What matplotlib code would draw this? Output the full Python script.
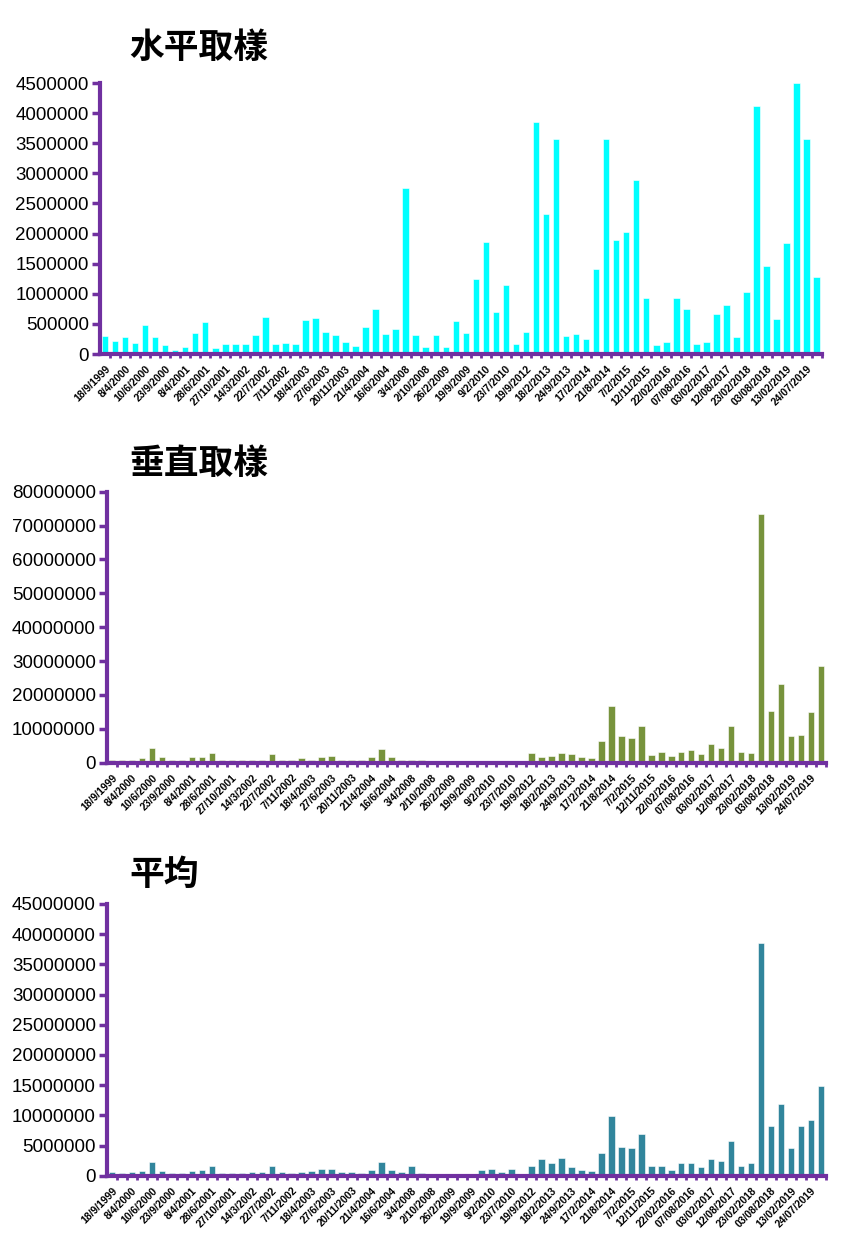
import matplotlib.pyplot as plt
import numpy as np

plt.rcParams['font.family'] = ['Liberation Sans', 'Noto Sans CJK TC', 'DejaVu Sans']

# ngay lay mau (chi ghi nhan moi 2 cot)
ngay = ['18/9/1999', '8/4/2000', '10/6/2000', '23/9/2000', '8/4/2001', '28/6/2001',
        '27/10/2001', '14/3/2002', '22/7/2002', '7/11/2002', '18/4/2003', '27/6/2003',
        '20/11/2003', '21/4/2004', '16/6/2004', '3/4/2008', '2/10/2008', '26/2/2009',
        '19/9/2009', '9/2/2010', '23/7/2010', '19/9/2012', '18/2/2013', '24/9/2013',
        '17/2/2014', '21/8/2014', '7/2/2015', '12/11/2015', '22/02/2016', '07/08/2016',
        '03/02/2017', '12/08/2017', '23/02/2018', '03/08/2018', '13/02/2019', '24/07/2019']

shuiping = [300000, 220000, 280000, 180000, 490000, 280000, 145000, 67000, 110000, 355000,
            527000, 105000, 166000, 166000, 166000, 316000, 620000, 166000, 183000, 166000,
            565000, 604000, 371000, 316000, 200000, 127000, 455000, 743000, 333000, 416000,
            2755000, 316000, 125000, 316000, 122000, 549000, 355000, 1242000, 1868000, 698000,
            1142000, 161000, 371000, 3853000, 2317000, 3564000, 294000, 333000, 244000, 1408000,
            3564000, 1890000, 2023000, 2894000, 931000, 144000, 200000, 931000, 743000, 161000,
            200000, 660000, 815000, 277000, 1025000, 4124000, 1469000, 582000, 1851000, 4500000,
            3564000, 1275000]

chuizhi = [900000, 700000, 900000, 1300000, 4400000, 1700000, 700000, 900000, 1700000, 1700000,
           3000000, 900000, 700000, 700000, 900000, 900000, 2700000, 900000, 700000, 1300000,
           900000, 1700000, 2000000, 900000, 900000, 700000, 1700000, 4000000, 1700000, 900000,
           700000, 700000, 600000, 600000, 600000, 600000, 600000, 600000, 600000, 600000,
           600000, 600000, 3000000, 1700000, 2100000, 2800000, 2500000, 1700000, 1400000, 6400000,
           16700000, 7900000, 7200000, 10800000, 2400000, 3300000, 2000000, 3300000, 3700000, 2700000,
           5400000, 4400000, 10800000, 3300000, 3000000, 73400000, 15400000, 23200000, 7900000, 8200000,
           15100000, 28600000]

pingjun = [550000, 400000, 550000, 770000, 2300000, 770000, 400000, 400000, 770000, 1000000,
           1700000, 400000, 400000, 400000, 550000, 550000, 1550000, 550000, 400000, 550000,
           770000, 1200000, 1200000, 550000, 550000, 400000, 1000000, 2300000, 1000000, 550000,
           1700000, 400000, 350000, 350000, 350000, 350000, 350000, 940000, 1160000, 550000,
           1160000, 350000, 1550000, 2700000, 2100000, 3000000, 1400000, 940000, 770000, 3800000,
           9900000, 4800000, 4600000, 6900000, 1550000, 1700000, 940000, 2100000, 2100000, 1400000,
           2700000, 2500000, 5700000, 1700000, 2100000, 38500000, 8200000, 11900000, 4600000, 8200000,
           9200000, 14900000]

tieude = ['水平取樣', '垂直取樣', '平均']
mau = ['#00FFFF', '#77933C', '#31859C']
ymax = [4500000, 80000000, 45000000]
buoc = [500000, 10000000, 5000000]
vitri = [[0.1175, 0.7138, 0.848, 0.2191],
         [0.1257, 0.3834, 0.845, 0.2191],
         [0.1257, 0.0495, 0.845, 0.2197]]
tieude_y = [0.962, 0.625, 0.293]

tim = '#7030A0'
fig = plt.figure(figsize=(8.51, 12.37), dpi=100)

for k, dulieu in enumerate([shuiping, chuizhi, pingjun]):
    ax = fig.add_axes(vitri[k])
    x = np.arange(len(dulieu))
    ax.bar(x, dulieu, width=0.65, color=mau[k], edgecolor='white', linewidth=0.4)
    ax.set_xlim(-0.5, len(dulieu) - 0.5)
    ax.set_ylim(0, ymax[k])
    ax.set_yticks(np.arange(0, ymax[k] + 1, buoc[k]))
    ax.set_yticklabels([str(v) for v in range(0, ymax[k] + 1, buoc[k])], fontsize=13.5)
    ax.set_xticks(np.arange(0, len(dulieu), 2))
    ax.set_xticklabels(ngay, rotation=45, ha='right', rotation_mode='anchor',
                       fontsize=7.5, fontweight='bold')
    ax.set_xticks(np.arange(len(dulieu)) + 0.5, minor=True)
    ax.tick_params(axis='x', which='major', length=0, pad=7)
    ax.tick_params(axis='x', which='minor', length=3, width=2, color=tim, direction='out')
    ax.tick_params(axis='y', length=6, width=2.5, color=tim, pad=2)
    for s in ['top', 'right']:
        ax.spines[s].set_visible(False)
    for s in ['left', 'bottom']:
        ax.spines[s].set_color(tim)
        ax.spines[s].set_linewidth(3)
    fig.text(0.152, tieude_y[k], tieude[k], fontsize=25, fontweight='bold',
             family=['Noto Sans CJK TC'], va='center', ha='left')

plt.savefig('out.png', dpi=100)
